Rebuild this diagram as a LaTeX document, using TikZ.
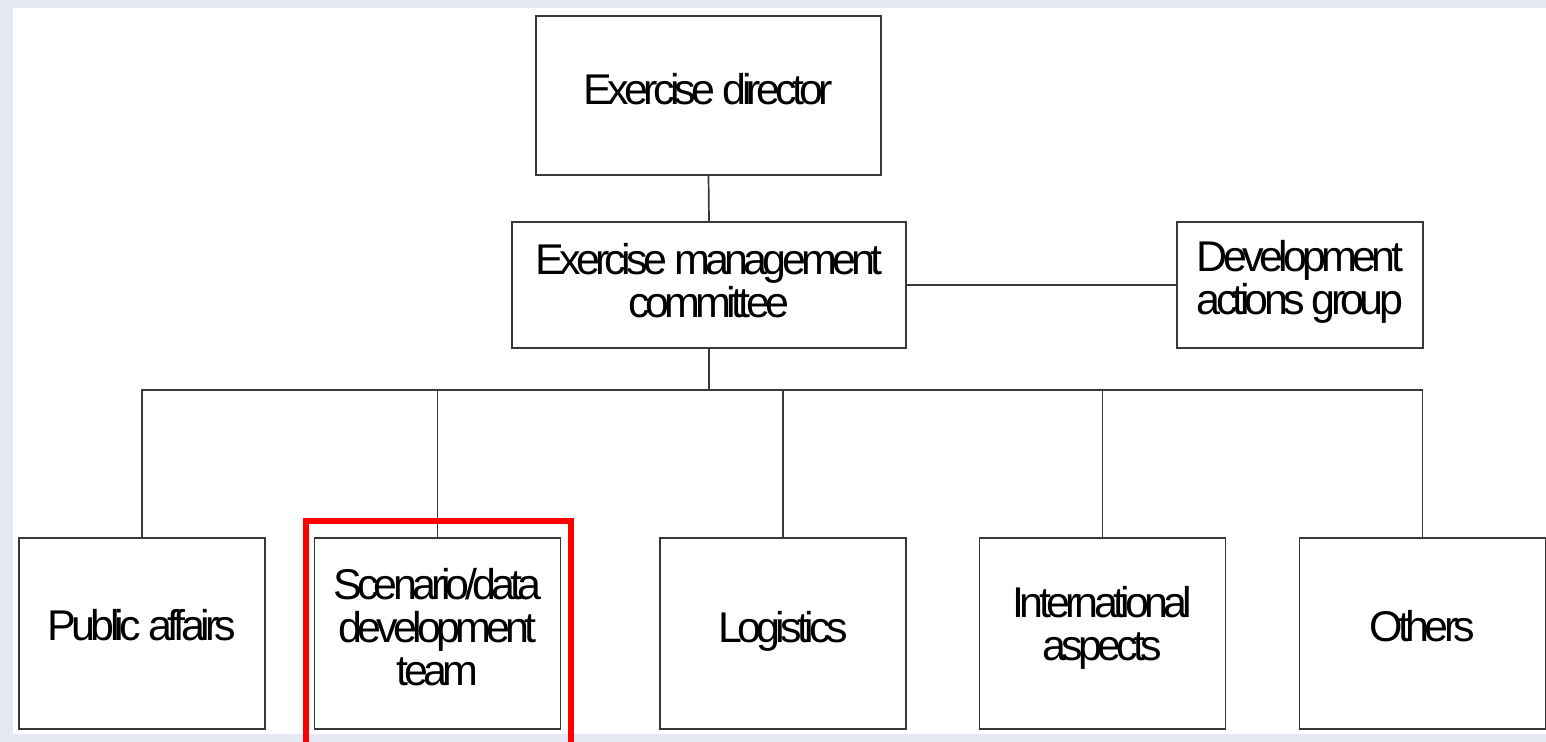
\documentclass[tikz,border=0pt]{standalone}
\usepackage{fontspec}
\setmainfont{Liberation Sans}[LetterSpace=-11]
\definecolor{bgc}{HTML}{E6E9F4}
\definecolor{linec}{HTML}{383838}
\definecolor{hil}{HTML}{FF0000}
\begin{document}
\begin{tikzpicture}[x=0.5pt,y=-0.5pt,
  box/.style={draw=linec, line width=0.85pt, fill=white, inner sep=0pt},
  topbox/.style={box, minimum width=172.5pt, minimum height=79.5pt},
  midbox/.style={box, minimum width=197pt, minimum height=63pt},
  sidebox/.style={box, minimum width=123pt, minimum height=63pt},
  lowbox/.style={box, minimum width=123pt, minimum height=95.5pt},
  lbl/.style={align=center, inner sep=0pt, font=\fontsize{21.5pt}{21.5pt}\selectfont},
  conn/.style={draw=linec, line width=0.85pt},
  hlmark/.style={draw=hil, line width=3pt}
]
\useasboundingbox (0,0) rectangle (1546,742);
\fill[bgc] (0,0) rectangle (1546,742);
\fill[white] (13,8) rectangle (1546,734);

\node[topbox] (dir) at (708.5,95.5) {};
\node[midbox] (emc) at (709,285) {};
\node[sidebox] (dag) at (1300,285) {};
\node[lowbox] (pa) at (142,633.5) {};
\node[lowbox] (scn) at (437.5,633.5) {};
\node[lowbox] (log) at (783,633.5) {};
\node[lowbox] (intl) at (1102.5,633.5) {};
\node[lowbox] (oth) at (1422.5,633.5) {};

\node[lbl] (dirT) at ([yshift=3pt]dir.center) {Exercise director};
\node[lbl] (emcT) at ([yshift=2pt]emc.center) {Exercise management\\committee};
\node[lbl] (dagT) at ([yshift=1.5pt]dag.center) {Development\\actions group};
\node[lbl] (paT) at ([yshift=4.25pt]pa.center) {Public affairs};
\node[lbl] (scnT) at ([yshift=3.25pt]scn.center) {Scenario/data\\development\\team};
\node[lbl] (logT) at ([yshift=1pt]log.center) {Logistics};
\node[lbl] (intlT) at ([yshift=2.75pt]intl.center) {International\\aspects};
\node[lbl] (othT) at ([yshift=3.75pt]oth.center) {Others};

\coordinate (bus) at (709,390);
\draw[conn] (dir.south) -- (emc.north);
\draw[conn] (emc.east) -- (dag.west);
\draw[conn] (emc.south) -- (bus);
\draw[conn] (pa.north) -- (pa.north |- bus) -- (oth.north |- bus) -- (oth.north);
\draw[conn] (scn.north) -- (scn.north |- bus);
\draw[conn] (log.north) -- (log.north |- bus);
\draw[conn] (intl.north) -- (intl.north |- bus);

\coordinate (hlA) at (306,742);
\coordinate (hlB) at (571,742);
\draw[hlmark] (hlA) -- (306,520.5) -- (571,520.5) -- (hlB);
\end{tikzpicture}
\end{document}
